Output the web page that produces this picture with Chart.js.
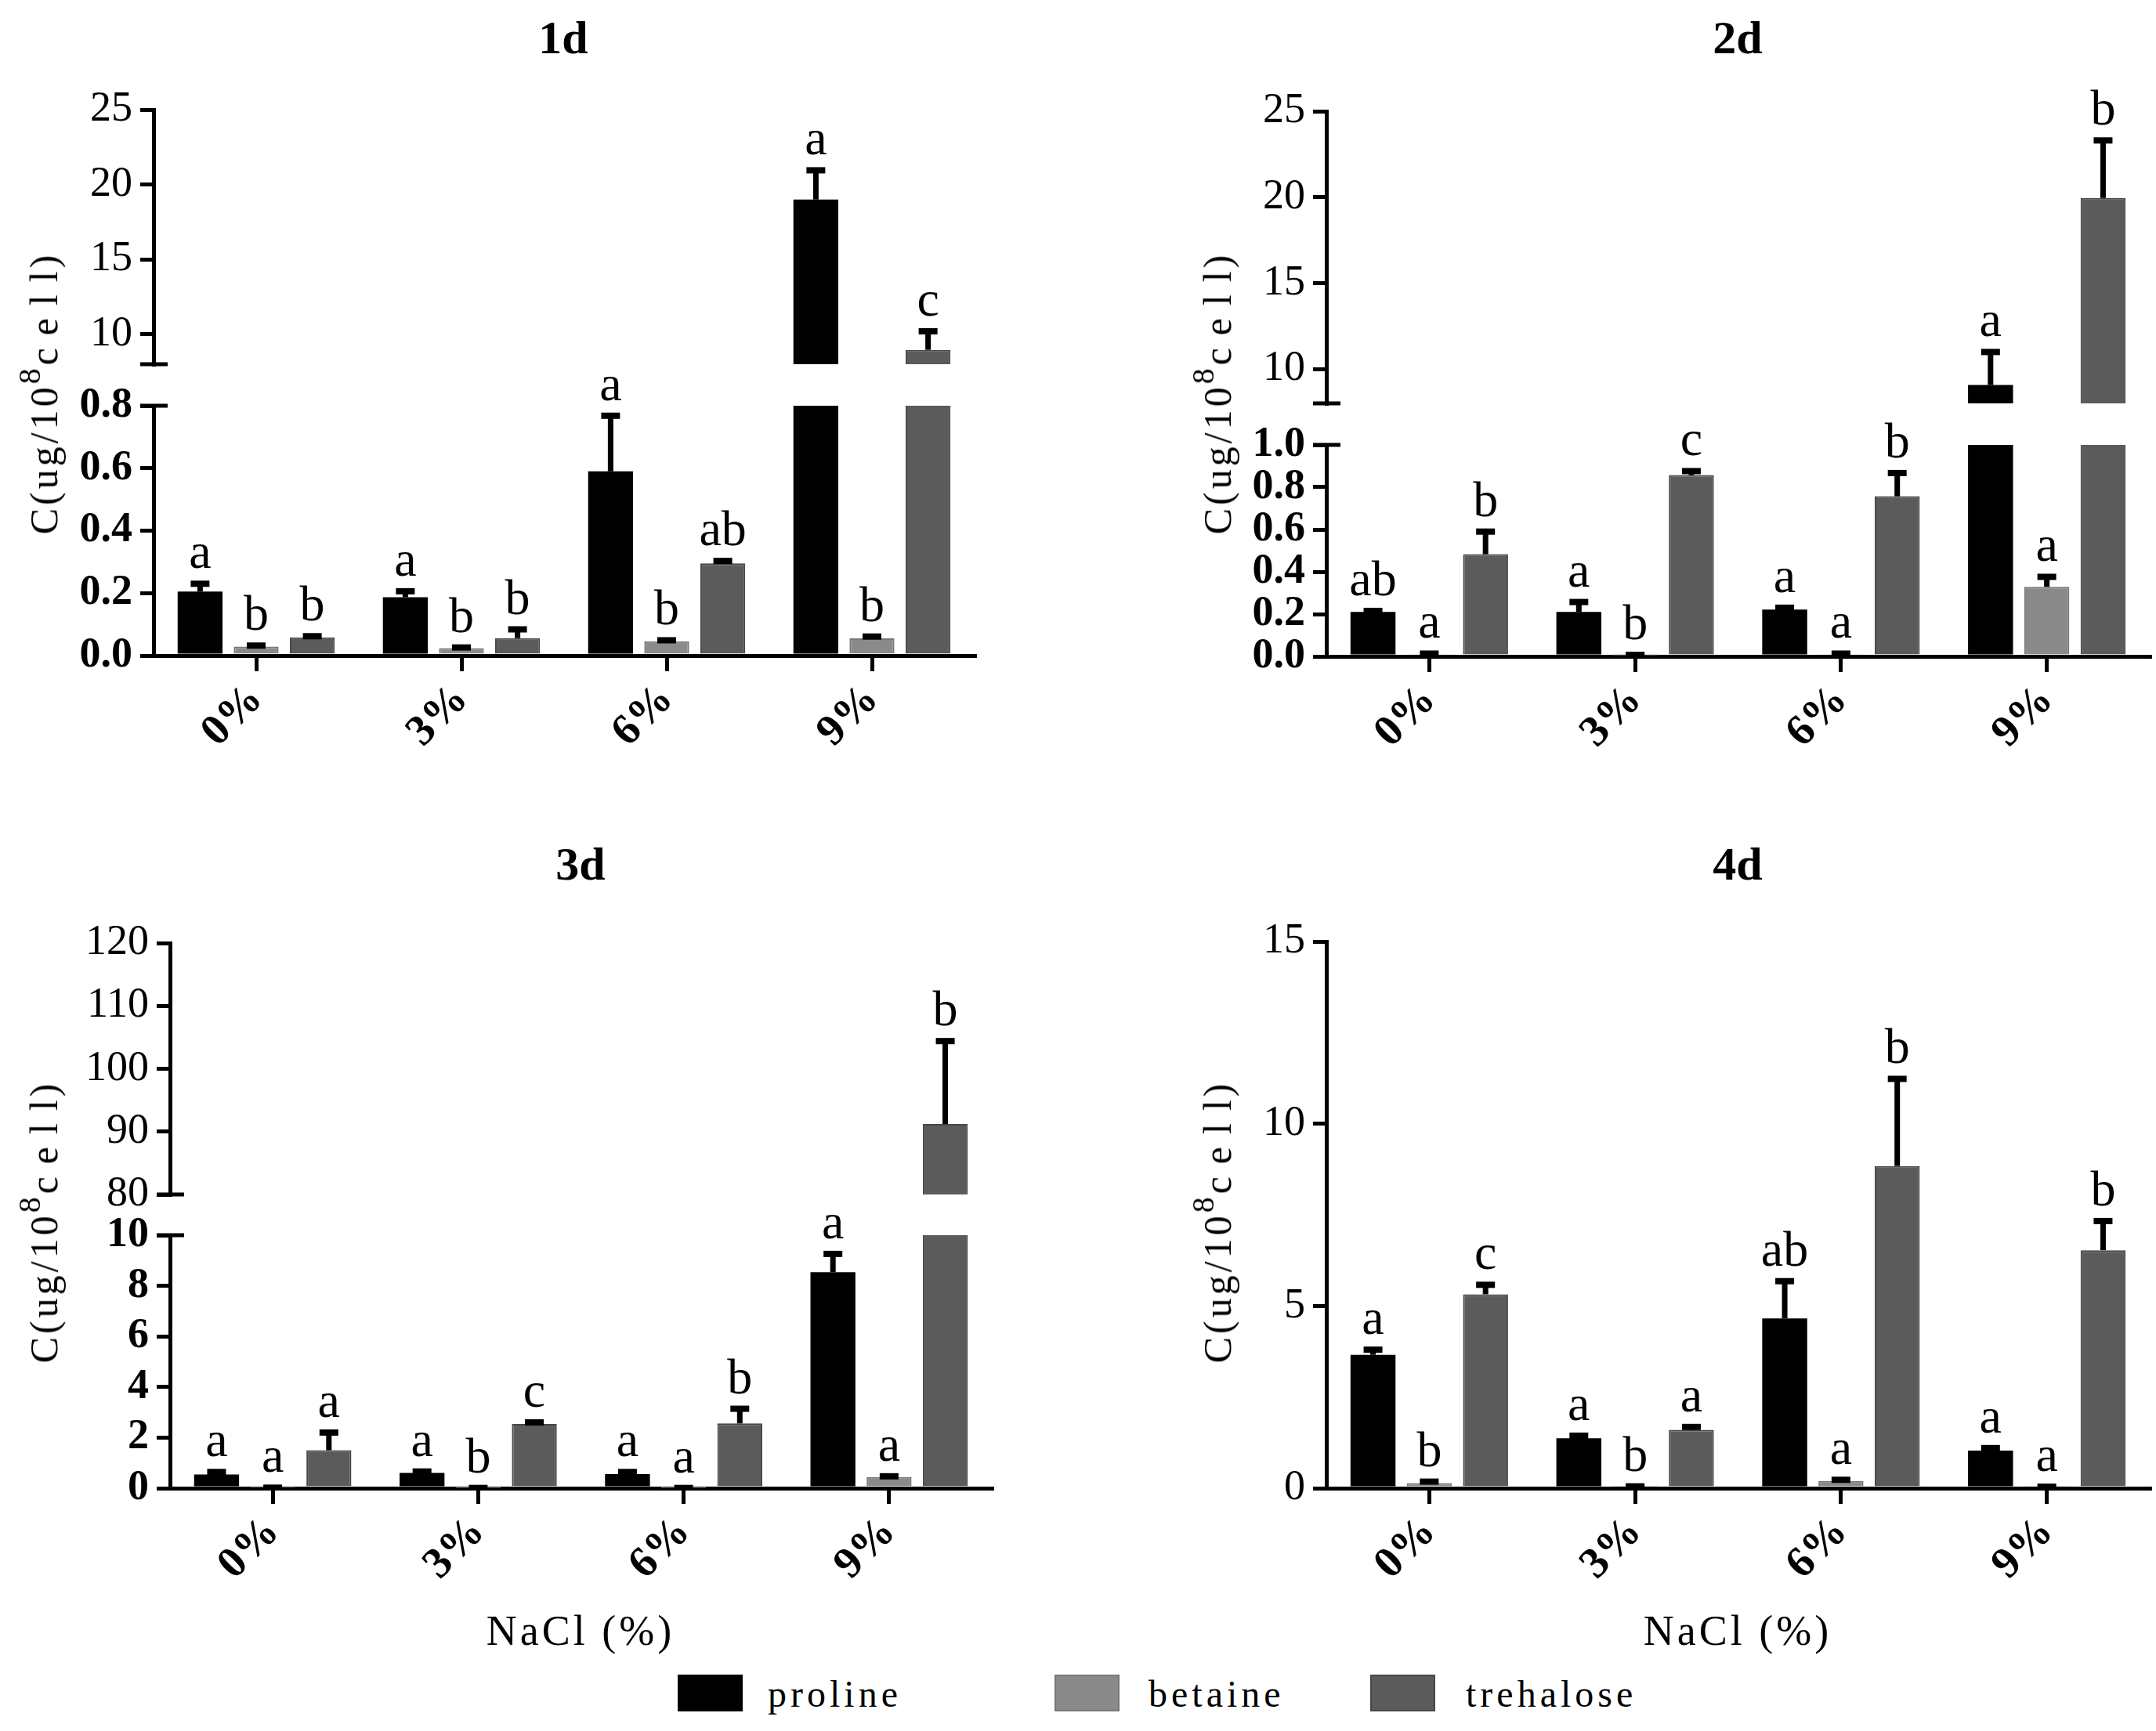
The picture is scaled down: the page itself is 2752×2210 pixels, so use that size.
<!DOCTYPE html>
<html>
<head>
<meta charset="utf-8">
<script src="https://cdn.jsdelivr.net/npm/chart.js@4.4.1/dist/chart.umd.min.js"></script>
<style>
  html, body { margin: 0; padding: 0; background: #fff; }
  #fig { position: relative; width: 2752px; height: 2210px; background: #fff; overflow: hidden; }
  #fig canvas { position: absolute; }
  .txt { position: absolute; font-family: "Liberation Serif", "Times New Roman", serif; color: #000; white-space: nowrap; }
  .ptitle { font-size: 60px; font-weight: bold; transform: translate(-50%, -50%); }
  .ytitle { font-size: 50px; letter-spacing: 4px; transform: translate(-50%, -50%) rotate(-90deg); }
  .ytitle sup { font-size: 40px; vertical-align: 0.55em; line-height: 0; }
  .ytitle .sp { letter-spacing: 16px; }
  .xtitle { font-size: 54px; letter-spacing: 4px; transform: translate(-50%, -50%); }
  .swatch { position: absolute; width: 83px; height: 47px; }
  .ltext { font-size: 48px; letter-spacing: 5px; transform: translateY(-50%); }
</style>
</head>
<body>
<div id="fig"></div>
<script>
(function () {
    'use strict';

    const categories = ['0%', '3%', '6%', '9%'];
    const seriesNames = ['proline', 'betaine', 'trehalose'];
    const panelTitles = ['1d', '2d', '3d', '4d'];

    // 1d
    const prolineDay1 = [0.205, 0.187, 0.59, 19.0];
    const prolineErrDay1 = [0.025, 0.019, 0.178, 1.95];
    const betaineDay1 = [0.029, 0.024, 0.046, 0.055];
    const betaineErrDay1 = [0.003, 0.002, 0.003, 0.006];
    const trehaloseDay1 = [0.058, 0.056, 0.295, 8.96];
    const trehaloseErrDay1 = [0.004, 0.028, 0.008, 1.24];
    const lettersDay1 = [['a', 'a', 'a', 'a'], ['b', 'b', 'b', 'b'], ['b', 'b', 'ab', 'c']];

    // 2d
    const prolineDay2 = [0.21, 0.21, 0.221, 9.07];
    const prolineErrDay2 = [0.005, 0.047, 0.009, 1.92];
    const betaineDay2 = [0.01, 0.005, 0.01, 0.329];
    const betaineErrDay2 = [0.003, 0.002, 0.003, 0.047];
    const trehaloseDay2 = [0.483, 0.857, 0.757, 19.95];
    const trehaloseErrDay2 = [0.107, 0.019, 0.11, 3.35];
    const lettersDay2 = [['ab', 'a', 'a', 'a'], ['a', 'b', 'a', 'a'], ['b', 'c', 'b', 'b']];

    // 3d
    const prolineDay3 = [0.54, 0.6, 0.56, 8.54];
    const prolineErrDay3 = [0.1, 0.06, 0.08, 0.72];
    const betaineDay3 = [0.02, 0.01, 0.01, 0.44];
    const betaineErrDay3 = [0, 0, 0, 0.03];
    const trehaloseDay3 = [1.5, 2.54, 2.56, 91.2];
    const trehaloseErrDay3 = [0.7, 0.06, 0.58, 13.2];
    const lettersDay3 = [['a', 'a', 'a', 'a'], ['a', 'b', 'a', 'a'], ['a', 'c', 'b', 'b']];

    // 4d
    const prolineDay4 = [3.66, 1.37, 4.66, 1.03];
    const prolineErrDay4 = [0.14, 0.07, 1.02, 0.07];
    const betaineDay4 = [0.14, 0.04, 0.2, 0.03];
    const betaineErrDay4 = [0.04, 0.01, 0.03, 0.01];
    const trehaloseDay4 = [5.32, 1.6, 8.84, 6.53];
    const trehaloseErrDay4 = [0.26, 0.08, 2.39, 0.8];
    const lettersDay4 = [['a', 'a', 'ab', 'a'], ['b', 'b', 'a', 'a'], ['c', 'a', 'b', 'b']];

    // axis ranges (broken axes: upper / lower segment) and tick values
    const rangeDay1Upper = [8, 25];
    const rangeDay1Lower = [0, 0.8];
    const rangeDay2Upper = [8, 25];
    const rangeDay2Lower = [0, 1.0];
    const rangeDay3Upper = [80, 120];
    const rangeDay3Lower = [0, 10];
    const rangeDay4 = [0, 15];
    const ticksDay1Upper = [10, 15, 20, 25];
    const ticksDay1Lower = [0, 0.2, 0.4, 0.6, 0.8];
    const ticksDay2Upper = [10, 15, 20, 25];
    const ticksDay2Lower = [0, 0.2, 0.4, 0.6, 0.8, 1.0];
    const ticksDay3Upper = [80, 90, 100, 110, 120];
    const ticksDay3Lower = [0, 2, 4, 6, 8, 10];
    const ticksDay4 = [0, 5, 10, 15];

    const days = [
        { values: [prolineDay1, betaineDay1, trehaloseDay1], errors: [prolineErrDay1, betaineErrDay1, trehaloseErrDay1], letters: lettersDay1,
          segs: [{ range: rangeDay1Upper, ticks: ticksDay1Upper, dec: 0, bold: false }, { range: rangeDay1Lower, ticks: ticksDay1Lower, dec: 1, bold: true }] },
        { values: [prolineDay2, betaineDay2, trehaloseDay2], errors: [prolineErrDay2, betaineErrDay2, trehaloseErrDay2], letters: lettersDay2,
          segs: [{ range: rangeDay2Upper, ticks: ticksDay2Upper, dec: 0, bold: false }, { range: rangeDay2Lower, ticks: ticksDay2Lower, dec: 1, bold: true }] },
        { values: [prolineDay3, betaineDay3, trehaloseDay3], errors: [prolineErrDay3, betaineErrDay3, trehaloseErrDay3], letters: lettersDay3,
          segs: [{ range: rangeDay3Upper, ticks: ticksDay3Upper, dec: 0, bold: false }, { range: rangeDay3Lower, ticks: ticksDay3Lower, dec: 0, bold: true }] },
        { values: [prolineDay4, betaineDay4, trehaloseDay4], errors: [prolineErrDay4, betaineErrDay4, trehaloseErrDay4], letters: lettersDay4,
          segs: [{ range: rangeDay4, ticks: ticksDay4, dec: 0, bold: false }] }
    ];

    // page geometry (pixels)
    const PAD = 50;
    const XAXIS_H = 150;
    const layout = [
        { left: 0, axisX: 196, right: 1244, title: [719, 48], yTitle: [56, 502], xTitle: null,
          segs: [{ top: 140, bottom: 465, brk: 'bottom' }, { top: 518, bottom: 837, brk: 'top', xAxis: true }] },
        { left: 1376, axisX: 1693, right: 2744, title: [2218, 48], yTitle: [1554, 502], xTitle: null,
          segs: [{ top: 142, bottom: 515, brk: 'bottom' }, { top: 568, bottom: 838, brk: 'top', xAxis: true }] },
        { left: 0, axisX: 217, right: 1266, title: [741, 1103], yTitle: [56, 1560], xTitle: [741, 2082],
          segs: [{ top: 1204, bottom: 1525, brk: 'bottom' }, { top: 1577, bottom: 1900, brk: 'top', xAxis: true }] },
        { left: 1376, axisX: 1693, right: 2744, title: [2218, 1103], yTitle: [1554, 1560], xTitle: [2218, 2082],
          segs: [{ top: 1202, bottom: 1900, brk: null, xAxis: true }] }
    ];

    const barColors = ['#000000', '#8a8a8a', '#5b5b5b'];
    const barBorders = ['#000000', '#777777', '#474747'];
    const FONT = '"Liberation Serif", "Times New Roman", serif';

    const errorBarPlugin = {
        id: 'errorBars',
        afterDatasetsDraw(chart) {
            const ctx = chart.ctx;
            const area = chart.chartArea;
            const yScale = chart.scales.y;
            const eps = (yScale.max - yScale.min) * 0.002;
            chart.data.datasets.forEach((ds, di) => {
                const meta = chart.getDatasetMeta(di);
                meta.data.forEach((bar, i) => {
                    const v = ds.data[i];
                    const top = v + ds.errors[i];
                    const x = bar.x;
                    const yTop = yScale.getPixelForValue(top);
                    const yVal = yScale.getPixelForValue(v);
                    const inRange = top >= yScale.min - eps && top <= yScale.max + eps;

                    ctx.save();
                    ctx.beginPath();
                    ctx.rect(area.left, area.top - 6, area.width, area.height + 6);
                    ctx.clip();
                    ctx.fillStyle = '#000';
                    if (ds.errors[i] > 0) {
                        ctx.fillRect(x - 3.5, yTop, 7, yVal - yTop);
                    }
                    if (inRange) {
                        ctx.fillRect(x - 12, yTop - 4, 24, 8);
                    }
                    ctx.restore();

                    if (inRange) {
                        ctx.save();
                        ctx.fillStyle = '#000';
                        ctx.font = '64px ' + FONT;
                        ctx.textAlign = 'center';
                        ctx.textBaseline = 'alphabetic';
                        ctx.fillText(ds.letters[i], x, yTop - 20);
                        ctx.restore();
                    }
                });
            });
        }
    };

    // T-shaped end caps where the y axis is broken
    const breakPlugin = {
        id: 'axisBreak',
        afterDraw(chart, args, opts) {
            if (!opts.side) return;
            const ctx = chart.ctx;
            const area = chart.chartArea;
            const y = opts.side === 'bottom' ? area.bottom : area.top;
            ctx.save();
            ctx.strokeStyle = '#000';
            ctx.lineWidth = 5;
            ctx.beginPath();
            ctx.moveTo(area.left - 17, y);
            ctx.lineTo(area.left + 18, y);
            ctx.stroke();
            ctx.restore();
        }
    };

    const fig = document.getElementById('fig');

    function addText(cls, html, x, y) {
        const d = document.createElement('div');
        d.className = 'txt ' + cls;
        d.innerHTML = html;
        d.style.left = x + 'px';
        d.style.top = y + 'px';
        fig.appendChild(d);
        return d;
    }

    function makeSegment(panel, seg, segData, day) {
        const canvas = document.createElement('canvas');
        const bottomSpace = seg.xAxis ? XAXIS_H : PAD;
        canvas.width = 1376;
        canvas.height = seg.bottom - seg.top + PAD + bottomSpace;
        canvas.style.left = panel.left + 'px';
        canvas.style.top = (seg.top - PAD) + 'px';
        canvas.style.width = canvas.width + 'px';
        canvas.style.height = canvas.height + 'px';
        fig.appendChild(canvas);

        const tickFont = { family: FONT, size: 54, weight: segData.bold ? 'bold' : 'normal' };

        return new Chart(canvas.getContext('2d'), {
            type: 'bar',
            data: {
                labels: categories,
                datasets: seriesNames.map((name, i) => ({
                    label: name,
                    data: day.values[i],
                    errors: day.errors[i],
                    letters: day.letters[i],
                    backgroundColor: barColors[i],
                    borderColor: barBorders[i],
                    borderWidth: i === 0 ? 0 : 2,
                    categoryPercentage: 0.82,
                    barPercentage: 0.8,
                    clip: 0
                }))
            },
            options: {
                responsive: false,
                animation: false,
                devicePixelRatio: 1,
                layout: {
                    padding: { top: PAD, bottom: seg.xAxis ? 0 : PAD, left: 0, right: panel.left + 1376 - panel.right }
                },
                plugins: {
                    legend: { display: false },
                    tooltip: { enabled: false },
                    axisBreak: { side: seg.brk }
                },
                scales: {
                    x: {
                        display: !!seg.xAxis,
                        offset: true,
                        grid: { offset: false, drawOnChartArea: false, tickLength: 20, lineWidth: 5, color: '#000' },
                        border: { display: true, width: 5, color: '#000' },
                        ticks: {
                            autoSkip: false,
                            minRotation: 45,
                            maxRotation: 45,
                            padding: 4,
                            color: '#000',
                            font: { family: FONT, size: 56, weight: 'bold' }
                        },
                        afterFit: (axis) => { axis.height = seg.xAxis ? XAXIS_H : 0; }
                    },
                    y: {
                        min: segData.range[0],
                        max: segData.range[1],
                        afterBuildTicks: (axis) => { axis.ticks = segData.ticks.map(v => ({ value: v })); },
                        afterFit: (axis) => { axis.width = panel.axisX - panel.left; },
                        grid: { drawOnChartArea: false, tickLength: 17, lineWidth: 5, color: '#000' },
                        border: { display: true, width: 5, color: '#000' },
                        ticks: {
                            autoSkip: false,
                            padding: 10,
                            color: '#000',
                            font: tickFont,
                            callback: (value) => Number(value).toFixed(segData.dec)
                        }
                    }
                }
            },
            plugins: [errorBarPlugin, breakPlugin]
        });
    }

    layout.forEach((panel, p) => {
        const day = days[p];
        panel.segs.forEach((seg, s) => makeSegment(panel, seg, day.segs[s], day));

        addText('ptitle', panelTitles[p], panel.title[0], panel.title[1]);
        addText('ytitle', 'C(ug/10<sup>8</sup><span class="sp">cel</span>l)', panel.yTitle[0], panel.yTitle[1]);
        if (panel.xTitle) {
            addText('xtitle', 'NaCl (%)', panel.xTitle[0], panel.xTitle[1]);
        }
    });

    // shared legend
    const legendPos = [[865, 980], [1346, 1466], [1749, 1871]];
    seriesNames.forEach((name, i) => {
        const sw = document.createElement('div');
        sw.className = 'swatch';
        sw.style.left = legendPos[i][0] + 'px';
        sw.style.top = '2138px';
        sw.style.background = barColors[i];
        sw.style.border = '2px solid ' + barBorders[i];
        sw.style.boxSizing = 'border-box';
        fig.appendChild(sw);
        addText('ltext', name, legendPos[i][1], 2162);
    });
})();
</script>
</body>
</html>
